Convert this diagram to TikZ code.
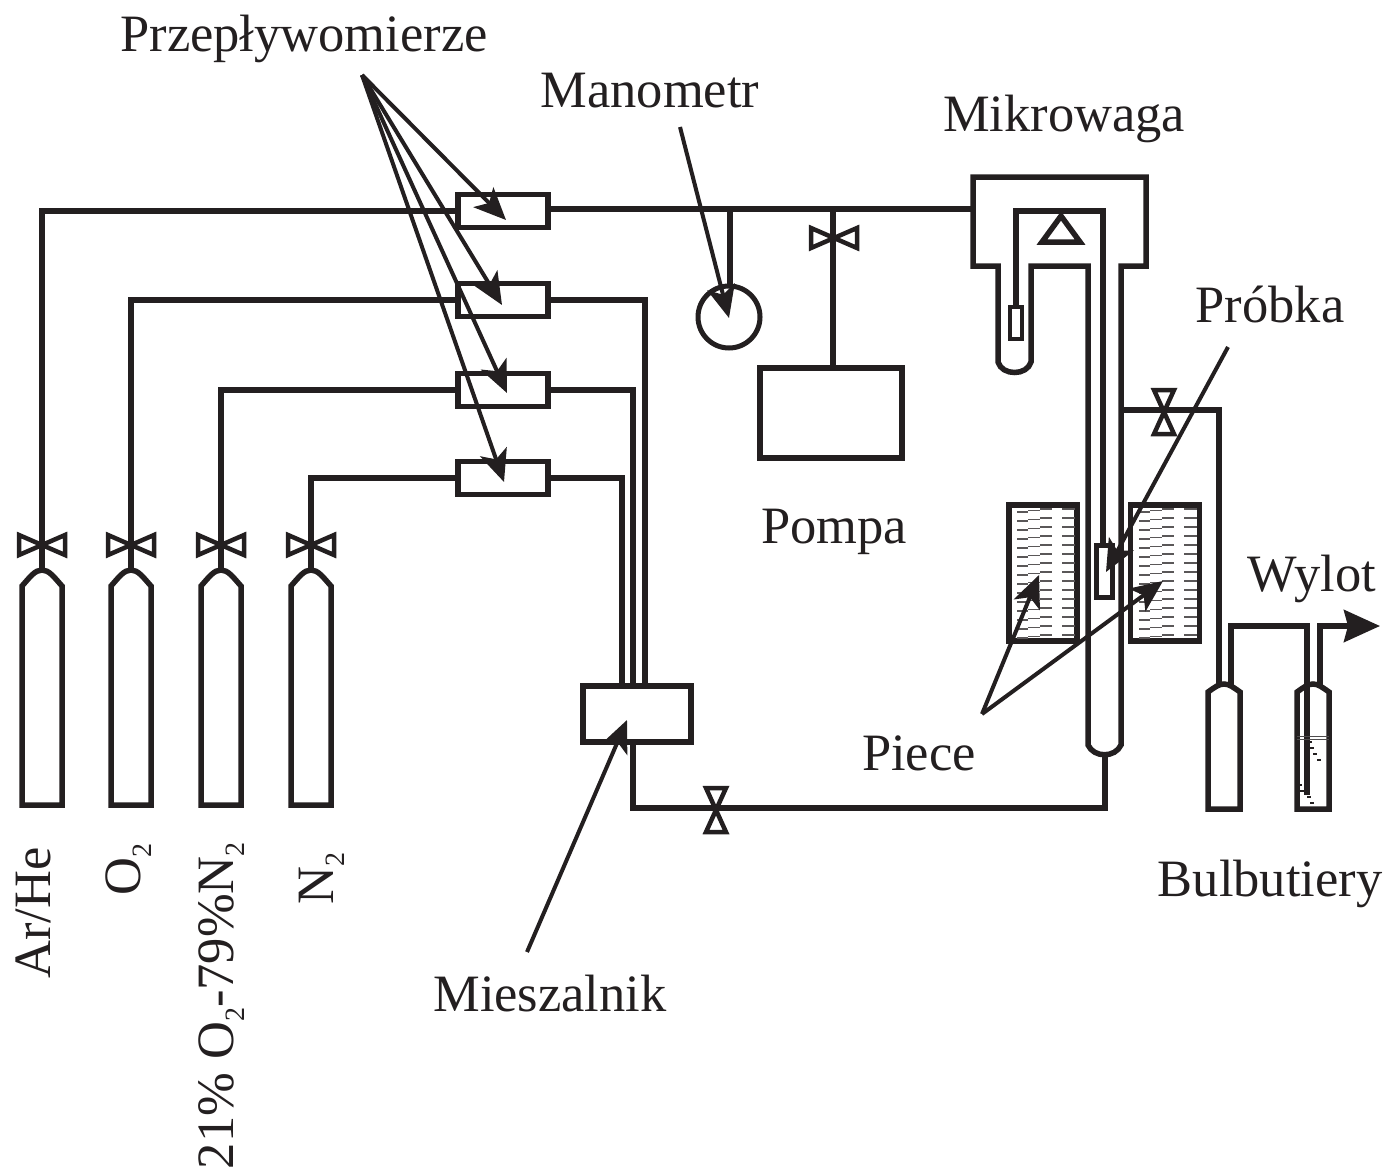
\documentclass[tikz,border=0pt]{standalone}
\usepackage{fontspec}
\setmainfont{Liberation Serif}
\usetikzlibrary{arrows.meta,positioning,calc}
\definecolor{ink}{RGB}{35,31,32}
\newcommand{\subtwo}{\raisebox{-11pt}{\fontsize{28}{30}\selectfont 2}}

\begin{document}
\begin{tikzpicture}[
    x=1pt, y=-1pt,
    pipe/.style={line width=5.5pt, draw=ink, line join=miter},
    tube/.style={line width=4.5pt, draw=ink},
    label/.style={font=\fontsize{52.5}{60}\selectfont, text=ink, inner sep=0pt},
    meter/.style={draw=ink, line width=5.5pt, minimum width=90pt, minimum height=33pt, inner sep=0pt},
    callout/.style={-{Stealth[length=32pt, width=28pt, inset=8pt]}, line width=4pt, draw=ink, fill=ink},
    hatch/.style={line width=1.5pt, draw=ink!75},
    valveh/.pic={\draw[tube] (-23,-10) -- (0,0) -- (-23,10) -- cycle (23,-10) -- (0,0) -- (23,10) -- cycle;},
    valvev/.pic={\draw[tube] (-10,-22) -- (0,0) -- (10,-22) -- cycle (-10,22) -- (0,0) -- (10,22) -- cycle;}
]
\useasboundingbox (0,0) rectangle (1386,1170);

% Gas cylinders
\foreach \x/\n in {42/ar,131/ox,221/mx,311/ni} {
    \coordinate (top\n) at (\x,570);
    \draw[pipe] (\x-20,805) -- (\x-20,586) .. controls (\x-12,577) and (\x-7,570) .. (top\n)
        .. controls (\x+7,570) and (\x+12,577) .. (\x+20,586) -- (\x+20,805) -- cycle;
    \pic at (\x,545) {valveh};
}

% Flow meters
\node[meter] (m1) at (503,211) {};
\node[meter] (m2) at (503,300) {};
\node[meter] (m3) at (503,390) {};
\node[meter] (m4) at (503,478) {};

\draw[pipe] (topar) |- (m1.west);
\draw[pipe] (topox) |- (m2.west);
\draw[pipe] (topmx) |- (m3.west);
\draw[pipe] (topni) |- (m4.west);

% Mixer
\node[meter, minimum width=108pt, minimum height=56pt] (mixer) at (637,714) {};
\coordinate (in2) at (645,686);
\coordinate (in3) at (633,686);
\coordinate (in4) at (622,686);
\coordinate (mixout) at (633,742);
\draw[pipe] (m2.east) -| (in2);
\draw[pipe] (m3.east) -| (in3);
\draw[pipe] (m4.east) -| (in4);

% Main line, manometer and pump
\coordinate (balin) at (973,209);
\node[draw=ink, line width=5pt, circle, minimum size=62pt, inner sep=0pt] (mano) at (729,317) {};
\node[meter, minimum width=142pt, minimum height=90pt] (pump) at (831,413) {};
\draw[pipe] (m1.east |- balin) -- (balin);
\draw[pipe] (730,209) -- (mano.north -| 730,0);
\draw[pipe] (833,209) -- (pump.north -| 833,0);
\pic at (834,238) {valveh};

% Microbalance housing and reactor tube
\draw[pipe] (1088,745) -- (1088,266) -- (1031,266) -- (1031,362)
    .. controls (1027,376) and (1002,376) .. (998,362)
    -- (998,266) -- (973,266) -- (973,177) -- (1146,177) -- (1146,266) -- (1121,266) -- (1121,745)
    .. controls (1115,758) and (1094,758) .. (1088,745) -- cycle;
\draw[pipe] (1042,242) -- (1080,242) -- (1061,216) -- cycle;
\node[draw=ink, line width=4.5pt, minimum width=12pt, minimum height=32pt, inner sep=0pt] (weight) at (1016,323) {};
\node[draw=ink, line width=5pt, minimum width=16pt, minimum height=52pt, inner sep=0pt] (sample) at (1104,571) {};
\draw[pipe] (weight.north) -- (1016,211) -- (1103,211) -- (1103,545);

% Furnaces
\node[meter, minimum width=68pt, minimum height=136pt] (fur1) at (1043,573) {};
\node[meter, minimum width=69pt, minimum height=136pt] (fur2) at (1165,573) {};
\foreach \fx in {1017,1139} {
    \foreach \r in {0,...,14} {
        \pgfmathsetmacro{\yy}{509+9*\r}
        \draw[hatch] (\fx,\yy+3) -- (\fx+11,\yy+3) (\fx+11,\yy+1.5) -- (\fx+23,\yy+1.5)
            (\fx+23,\yy) -- (\fx+35,\yy) (\fx+45,\yy) -- (\fx+58,\yy);
    }
}

% Return line
\coordinate (tubebot) at (1105,757);
\coordinate (corner) at (1105,808);
\draw[pipe] (mixout) |- (corner) -- (tubebot);
\pic at (716,810) {valvev};

% Bubblers
\foreach \x/\n in {1224/ba,1313/bb} {
    \coordinate (top\n) at (\x,684);
    \draw[pipe] (\x-16,809) -- (\x-16,692) .. controls (\x-9,687) and (\x-5,684) .. (top\n)
        .. controls (\x+5,684) and (\x+9,687) .. (\x+16,692) -- (\x+16,809) -- cycle;
}
\coordinate (ventin) at (1121,410);
\draw[pipe] (ventin) -- (1219,410) -- (1219,685);
\pic at (1164,412) {valvev};
\draw[pipe] (1231,685) -- (1231,626) -- (1307,626) -- (1307,795);
\draw[line width=1pt, draw=ink!80] (1297,736) -- (1329,736) (1297,739) -- (1329,739);
\foreach \bx/\by in {1310/742,1312/748,1315/754,1319/760,1300/785,1302/791,1309/797,1312/803} {
    \fill[ink] (\bx-2,\by-0.8) rectangle (\bx+2,\by+0.8);
}
\coordinate (outlet) at (1380,626);
\draw[pipe, -{Stealth[length=36pt, width=32pt, inset=4pt]}] (1320,685) -- (1320,626) -- (outlet);

% Labels
\node[label] (przep) at (304,39) {Przepływomierze};
\node[label] (manom) at (650,91) {Manometr};
\node[label] (mikro) at (1064,119) {Mikrowaga};
\node[label] (probka) at (1270,304) {Próbka};
\node[label] (pompa) at (834,532) {Pompa};
\node[label] (wylot) at (1312,579) {Wylot};
\node[label] (piece) at (919,753) {Piece};
\node[label] (bulb) at (1270,884) {Bulbutiery};
\node[label] (miesz) at (550,994) {Mieszalnik};
\node[label, rotate=90, anchor=base east] (lar) at (50,847) {Ar/He};
\node[label, rotate=90, anchor=base east] (lox) at (140,843) {O\subtwo};
\node[label, rotate=90, anchor=base east] (lmx) at (233,842) {21\% O\subtwo-79\%N\subtwo};
\node[label, rotate=90, anchor=base east] (lni) at (333,852) {N\subtwo};

% Callouts
\coordinate (pfrom) at (362,75);
\draw[callout] (pfrom) -- (506,220);
\draw[callout] (pfrom) -- (502,305);
\draw[callout] (pfrom) -- (507,393);
\draw[callout] (pfrom) -- (504,482);
\draw[callout] (680,127) -- (729,318);
\draw[callout] (527,952) -- (627,720);
\draw[callout] (1228,347) -- (1106,572);
\coordinate (piecefrom) at (982,714);
\draw[callout] (piecefrom) -- (1039,575);
\draw[callout] (piecefrom) -- (1163,581);
\end{tikzpicture}
\end{document}
